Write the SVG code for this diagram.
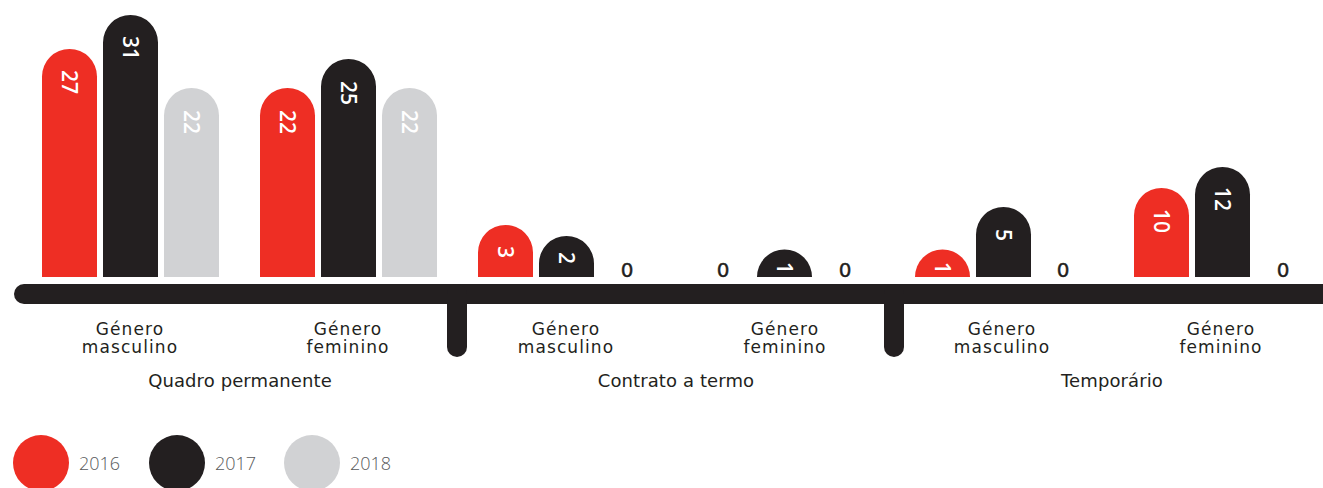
<svg xmlns="http://www.w3.org/2000/svg" width="1323" height="488" viewBox="0 0 1323 488">
<style>
.r{fill:#EE2E24}.k{fill:#231F20}.g{fill:#D1D2D4}
.v{font-family:"Open Sans",sans-serif;font-weight:600;font-size:21px;fill:#fff;text-anchor:middle;dominant-baseline:central}
.z{font-family:"DejaVu Sans",sans-serif;font-size:20px;fill:#231F20;text-anchor:middle;stroke:#231F20;stroke-width:0.4px}
.l{font-family:"DejaVu Sans",sans-serif;font-size:17px;fill:#231F20;text-anchor:middle;letter-spacing:1.1px}
.c{font-family:"DejaVu Sans",sans-serif;font-size:18px;fill:#231F20;text-anchor:middle;letter-spacing:0.1px}
.y{font-family:"Open Sans",sans-serif;font-weight:300;font-size:18px;fill:#58595B}
</style>
<rect width="1323" height="488" fill="#fff"/>
<g id="axis">
<rect class="k" x="14" y="284" width="1330" height="20" rx="10"/>
<rect class="k" x="447" y="284" width="20" height="73" rx="10"/>
<rect class="k" x="884" y="284" width="20" height="73" rx="10"/>
</g>
<g id="qp-masc">
<path class="r" d="M42,277V76.5a27.5,27.5 0 0 1 55,0V277Z"/>
<text class="v" transform="translate(69.5,82) rotate(90)">27</text>
<path class="k" d="M103,277V42.5a27.5,27.5 0 0 1 55,0V277Z"/>
<text class="v" transform="translate(130.5,48) rotate(90)">31</text>
<path class="g" d="M164,277V115.5a27.5,27.5 0 0 1 55,0V277Z"/>
<text class="v" transform="translate(191.5,122) rotate(90)">22</text>
<text class="l" x="130" y="335">Género</text>
<text class="l" x="130" y="353">masculino</text>
</g>
<g id="qp-fem">
<path class="r" d="M260,277V115.5a27.5,27.5 0 0 1 55,0V277Z"/>
<text class="v" transform="translate(287.5,122) rotate(90)">22</text>
<path class="k" d="M321,277V86.5a27.5,27.5 0 0 1 55,0V277Z"/>
<text class="v" transform="translate(348.5,93) rotate(90)">25</text>
<path class="g" d="M382,277V115.5a27.5,27.5 0 0 1 55,0V277Z"/>
<text class="v" transform="translate(409.5,122) rotate(90)">22</text>
<text class="l" x="348" y="335">Género</text>
<text class="l" x="348" y="353">feminino</text>
</g>
<g id="ct-masc">
<path class="r" d="M478,277V252.5a27.5,27.5 0 0 1 55,0V277Z"/>
<text class="v" transform="translate(505.5,252) rotate(90)">3</text>
<path class="k" d="M539,277V263.5a27.5,27.5 0 0 1 55,0V277Z"/>
<text class="v" transform="translate(566.5,258) rotate(90)">2</text>
<text class="z" x="627" y="277">0</text>
<text class="l" x="566" y="335">Género</text>
<text class="l" x="566" y="353">masculino</text>
</g>
<g id="ct-fem">
<text class="z" x="723" y="277">0</text>
<path class="k" d="M757,277V277a27.5,27.5 0 0 1 55,0V277Z"/>
<text class="v" transform="translate(784.5,268) rotate(90)">1</text>
<text class="z" x="845" y="277">0</text>
<text class="l" x="785" y="335">Género</text>
<text class="l" x="785" y="353">feminino</text>
</g>
<g id="tp-masc">
<path class="r" d="M915,277V277a27.5,27.5 0 0 1 55,0V277Z"/>
<text class="v" transform="translate(942.5,268) rotate(90)">1</text>
<path class="k" d="M976,277V234.5a27.5,27.5 0 0 1 55,0V277Z"/>
<text class="v" transform="translate(1003.5,235) rotate(90)">5</text>
<text class="z" x="1063" y="277">0</text>
<text class="l" x="1002" y="335">Género</text>
<text class="l" x="1002" y="353">masculino</text>
</g>
<g id="tp-fem">
<path class="r" d="M1134,277V215.5a27.5,27.5 0 0 1 55,0V277Z"/>
<text class="v" transform="translate(1161.5,221) rotate(90)">10</text>
<path class="k" d="M1195,277V194.5a27.5,27.5 0 0 1 55,0V277Z"/>
<text class="v" transform="translate(1222.5,199) rotate(90)">12</text>
<text class="z" x="1283" y="277">0</text>
<text class="l" x="1221" y="335">Género</text>
<text class="l" x="1221" y="353">feminino</text>
</g>
<g id="categories">
<text class="c" x="240" y="387">Quadro permanente</text>
<text class="c" x="676" y="387">Contrato a termo</text>
<text class="c" x="1112" y="387">Temporário</text>
</g>
<g id="legend">
<circle class="r" cx="41" cy="463" r="28"/>
<text class="y" x="79" y="470">2016</text>
<circle class="k" cx="177" cy="463" r="28"/>
<text class="y" x="215" y="470">2017</text>
<circle class="g" cx="312" cy="463" r="28"/>
<text class="y" x="350" y="470">2018</text>
</g>
</svg>
